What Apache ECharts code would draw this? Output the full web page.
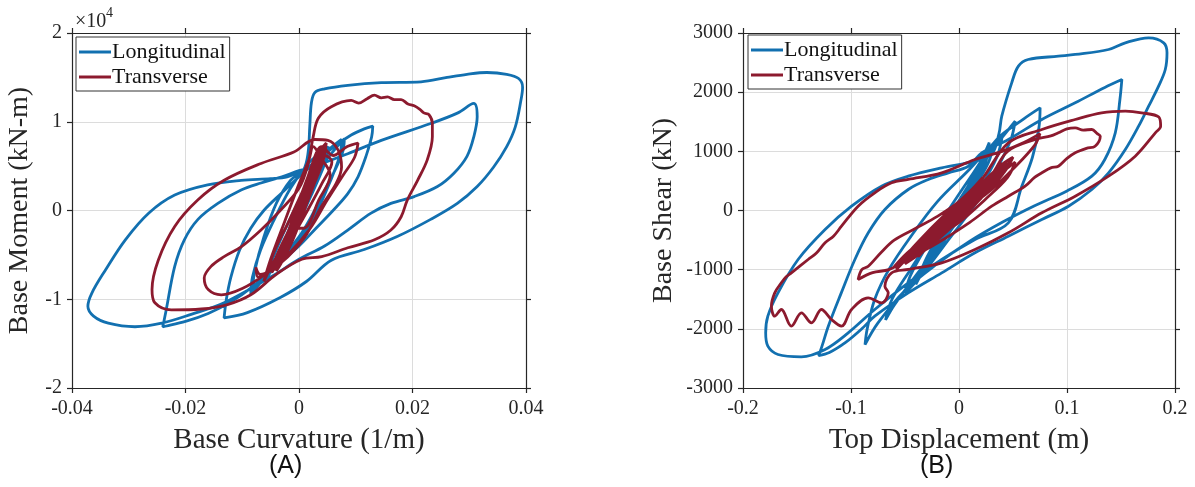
<!DOCTYPE html>
<html>
<head>
<meta charset="utf-8">
<script src="https://cdn.jsdelivr.net/npm/echarts@6/dist/echarts.min.js"></script>
<style>
html,body{margin:0;padding:0;background:#fff;}
#chart{width:1195px;height:487px;}
</style>
</head>
<body>
<div id="chart"></div>
<script>
// ---------- DATA ----------
// Panel A: base curvature (1/m) vs base moment (x 10^4 kN-m)
const curvLong = [
[0,0],[0.001,0.22],[0.0022,0.45],[0.003,0.58],[0.0022,0.38],[0.0005,0.05],[-0.0015,-0.3],[-0.0028,-0.5],[-0.002,-0.32],[0,0.02],
[0.0022,0.38],[0.0042,0.62],[0.0052,0.72],[0.0045,0.52],[0.0015,0.08],[-0.0018,-0.38],[-0.0042,-0.62],[-0.0055,-0.74],[-0.0045,-0.52],[-0.001,-0.02],
[0.003,0.42],[0.0062,0.68],[0.008,0.81],[0.0076,0.64],[0.0045,0.22],[0.0005,-0.25],[-0.004,-0.6],[-0.0068,-0.78],[-0.0082,-0.9],[-0.0078,-0.68],
[-0.0062,-0.3],[-0.004,0.08],[-0.0015,0.34],[0.0008,0.46],[0.0016,0.65],[0.0019,0.95],[0.0022,1.22],[0.0028,1.33],[0.0045,1.37],[0.0086,1.41],
[0.0145,1.44],[0.0215,1.45],[0.0261,1.5],[0.0296,1.535],[0.0331,1.555],[0.0366,1.535],[0.0387,1.487],[0.0394,1.39],[0.0391,1.24],[0.0381,0.94],
[0.0366,0.72],[0.0343,0.49],[0.0314,0.27],[0.0279,0.08],[0.0232,-0.1],[0.0174,-0.29],[0.0115,-0.44],[0.0057,-0.56],[0.0013,-0.8],[-0.0033,-0.98],
[-0.0091,-1.15],[-0.0132,-1.21],[-0.0128,-1.0],[-0.012,-0.75],[-0.0105,-0.45],[-0.0085,-0.2],[-0.0062,0.0],[-0.003,0.2],[0.0,0.38],[0.003,0.55],
[0.0062,0.72],[0.0092,0.85],[0.0115,0.92],[0.013,0.95],[0.0128,0.83],[0.0118,0.61],[0.0104,0.38],[0.0086,0.19],[0.006,0.0],[0.003,-0.2],
[0.0,-0.4],[-0.004,-0.62],[-0.008,-0.85],[-0.012,-1.03],[-0.016,-1.16],[-0.02,-1.25],[-0.024,-1.31],[-0.0234,-1.12],[-0.0219,-0.63],[-0.0202,-0.33],
[-0.0178,-0.1],[-0.0143,0.08],[-0.0102,0.23],[-0.0067,0.31],[-0.003,0.38],[0.0,0.45],[0.0028,0.5],[0.0086,0.64],[0.0145,0.79],[0.0232,0.98],
[0.028,1.1],[0.0308,1.206],[0.0314,1.056],[0.0308,0.83],[0.0296,0.61],[0.0273,0.42],[0.0244,0.27],[0.0203,0.157],[0.0162,0.08],[0.0127,-0.03],
[0.0086,-0.22],[0.0045,-0.4],[0.0,-0.55],[-0.005,-0.75],[-0.0132,-1.04],[-0.019,-1.17],[-0.0242,-1.27],[-0.0289,-1.31],[-0.0336,-1.27],[-0.0362,-1.19],
[-0.0372,-1.08],[-0.0365,-0.93],[-0.0341,-0.67],[-0.0306,-0.33],[-0.0265,-0.03],[-0.0219,0.175],[-0.0161,0.29],[-0.0102,0.34],[-0.005,0.36],[-0.0021,0.38],
[0.0005,0.45],[0.003,0.55],[0.0055,0.7],[0.0075,0.8],[0.0072,0.62],[0.005,0.25],[0.002,-0.15],[-0.002,-0.5],[-0.006,-0.76],[-0.0085,-0.94],
[-0.0082,-0.75],[-0.0068,-0.45],[-0.0045,-0.12],[-0.0015,0.25],[0.0015,0.52],[0.004,0.66],[0.0032,0.42],[0.0005,0.0],[-0.0025,-0.42],[-0.0018,-0.22],[0,0]
];
const curvTrans = [
[0,0],[0.0015,0.25],[0.003,0.5],[0.0038,0.62],[0.003,0.42],[0.001,0.05],[-0.001,-0.3],[-0.0025,-0.5],[-0.003,-0.58],[-0.002,-0.38],
[0,-0.02],[0.002,0.35],[0.0035,0.6],[0.0045,0.7],[0.0038,0.5],[0.0015,0.1],[-0.0012,-0.35],[-0.0032,-0.6],[-0.004,-0.68],[-0.0028,-0.42],
[-0.0005,0.02],[0.0018,0.42],[0.0032,0.66],[0.0028,0.45],[0.0008,0.08],[-0.0015,-0.38],[-0.0035,-0.62],[-0.0022,-0.35],[0.0003,0.1],[0.0022,0.5],
[0.004,0.72],[0.006,0.62],[0.0085,0.72],[0.0104,0.76],[0.0098,0.6],[0.0078,0.4],[0.005,0.12],[0.002,-0.2],[-0.002,-0.5],[-0.006,-0.72],
[-0.01,-0.88],[-0.0137,-0.95],[-0.016,-0.89],[-0.0167,-0.76],[-0.0155,-0.63],[-0.0132,-0.52],[-0.0102,-0.41],[-0.0067,-0.22],[-0.0033,0.0],[0.0,0.25],
[0.0015,0.5],[0.0025,0.83],[0.0034,1.04],[0.0057,1.17],[0.0092,1.24],[0.0105,1.21],[0.012,1.26],[0.0133,1.3],[0.0145,1.27],[0.0156,1.28],
[0.0168,1.25],[0.018,1.25],[0.0192,1.2],[0.0203,1.18],[0.0213,1.14],[0.022,1.1],[0.0229,1.08],[0.0235,0.98],[0.0235,0.83],[0.0226,0.57],
[0.0209,0.34],[0.0191,0.12],[0.018,-0.07],[0.0162,-0.22],[0.0133,-0.33],[0.0086,-0.42],[0.004,-0.52],[0.0005,-0.55],[-0.004,-0.72],[-0.0085,-0.95],
[-0.0126,-1.06],[-0.0172,-1.11],[-0.0225,-1.12],[-0.0254,-1.04],[-0.0259,-0.89],[-0.0248,-0.56],[-0.0219,-0.18],[-0.0178,0.12],[-0.0132,0.34],[-0.0067,0.53],
[-0.0009,0.66],[0.0028,0.8],[0.0051,0.79],[0.0069,0.68],[0.0075,0.49],[0.0065,0.3],[0.004,0.05],[0.001,-0.3],[-0.003,-0.58],[-0.0068,-0.72],
[-0.0076,-0.64],[-0.0072,-0.75],[-0.0055,-0.68],[-0.003,-0.4],[-0.0005,-0.05],[0.0018,0.35],[0.0035,0.62],[0.0042,0.7],[0.0032,0.45],[0.001,0.1],
[-0.0015,-0.35],[-0.0035,-0.6],[-0.0042,-0.66],[-0.003,-0.45],[-0.001,-0.1],[0.0012,0.28],[0.003,0.55],[0.0045,0.62],[0.0058,0.55],[0.004,0.3],
[0.0015,0.0],[-0.0012,-0.3],[-0.0038,-0.55],[-0.0055,-0.7],[-0.0045,-0.48],[-0.002,-0.15],[0.0005,0.2],[0.0025,0.48],[0.0038,0.68],[0.0048,0.76],
[0.0042,0.55],[0.002,0.2],[-0.0008,-0.2],[-0.0028,-0.48],[-0.0048,-0.7],[-0.004,-0.52],[-0.0015,-0.18],[0.001,0.18],[0.0028,0.45],[0.0022,0.3],
[0.0002,0.0],[-0.002,-0.32],[-0.0045,-0.58],[-0.0062,-0.8],[-0.005,-0.55],[-0.0025,-0.12],[0.0,0.3],[0.0018,0.58],[0.0025,0.72],[0.004,0.58],
[0.0055,0.4],[0.0035,0.12],[0.0008,-0.2],[-0.0012,-0.2],[0,0]
];
// Panel B: top displacement (m) vs base shear (kN)
const dispLong = [
[0,0],[0.01,350],[0.02,700],[0.026,900],[0.02,600],[0.005,100],[-0.01,-350],[-0.022,-700],[-0.028,-900],[-0.02,-600],
[-0.005,-100],[0.012,450],[0.025,900],[0.032,1100],[0.027,800],[0.01,250],[-0.01,-400],[-0.028,-900],[-0.038,-1150],[-0.03,-800],
[-0.012,-200],[0.008,400],[0.03,1000],[0.045,1350],[0.052,1510],[0.048,1200],[0.035,700],[0.015,100],[-0.01,-500],[-0.035,-1100],
[-0.05,-1400],[-0.045,-1100],[-0.03,-600],[-0.01,0],[0.012,600],[0.035,1200],[0.06,1550],[0.0751,1735],[0.074,1400],[0.068,900],
[0.058,400],[0.0457,-208],[0.0148,-490],[-0.016,-828],[-0.047,-1222],[-0.078,-1673],[-0.1026,-2068],[-0.124,-2349],[-0.146,-2473],[-0.1676,-2434],
[-0.177,-2293],[-0.179,-2068],[-0.177,-1786],[-0.1676,-1392],[-0.149,-828],[-0.124,-321],[-0.0995,73],[-0.0717,411],[-0.047,580],[-0.016,721],
[0.0148,834],[0.0303,950],[0.037,1300],[0.0396,1594],[0.0488,2158],[0.055,2440],[0.064,2552],[0.092,2608],[0.1076,2637],[0.1385,2721],
[0.154,2834],[0.1756,2918],[0.1895,2834],[0.1926,2665],[0.191,2383],[0.1848,2101],[0.1756,1763],[0.1663,1425],[0.154,1031],[0.1385,637],
[0.123,355],[0.1014,73],[0.0767,-152],[0.0457,-434],[0.0148,-715],[-0.016,-1054],[-0.047,-1392],[-0.078,-1786],[-0.09,-2000],[-0.105,-2230],
[-0.12,-2400],[-0.13,-2451],[-0.127,-2300],[-0.121,-1955],[-0.109,-1392],[-0.0964,-828],[-0.084,-377],[-0.0686,17],[-0.047,355],[-0.0284,524],
[-0.0099,637],[0.0087,749],[0.021,975],[0.0457,1200],[0.0767,1538],[0.1076,1820],[0.135,2080],[0.1508,2214],[0.149,1876],[0.1447,1313],
[0.135,862],[0.123,580],[0.1,330],[0.07,80],[0.04,-200],[0.01,-520],[-0.02,-900],[-0.05,-1350],[-0.075,-1900],[-0.087,-2265],
[-0.085,-2000],[-0.078,-1500],[-0.065,-1000],[-0.045,-450],[-0.02,150],[0.01,700],[0.03,1100],[0.04,1250],[0.035,900],[0.02,400],
[-0.01,-400],[-0.04,-1100],[-0.06,-1600],[-0.068,-1850],[-0.062,-1500],[-0.045,-1000],[-0.025,-450],[0.0,150],[0.02,650],[0.028,1150],
[0.022,900],[0.008,400],[-0.012,-300],[-0.03,-900],[-0.04,-1250],[-0.032,-950],[-0.015,-400],[0.005,200],[0.018,600],[0.012,400],[0,0]
];
const dispTrans = [
[0,0],[0.015,300],[0.03,600],[0.04,800],[0.03,500],[0.01,100],[-0.015,-350],[-0.035,-650],[-0.045,-800],[-0.03,-500],
[-0.01,-100],[0.015,350],[0.035,700],[0.048,880],[0.04,600],[0.02,200],[-0.005,-250],[-0.03,-650],[-0.05,-900],[-0.04,-600],
[-0.02,-250],[0.01,250],[0.03,600],[0.045,1000],[0.0705,1200],[0.085,1260],[0.092,1313],[0.1,1380],[0.1076,1397],[0.115,1360],
[0.123,1369],[0.128,1300],[0.1308,1256],[0.126,1087],[0.118,1050],[0.1076,975],[0.1,880],[0.092,749],[0.085,720],[0.0767,637],
[0.07,560],[0.0612,411],[0.0457,242],[0.0303,73],[0.01,-200],[-0.02,-550],[-0.05,-850],[-0.065,-1000],[-0.08,-1050],[-0.0934,-1166],
[-0.09,-1000],[-0.084,-941],[-0.0717,-700],[-0.06,-500],[-0.04,-300],[-0.02,-100],[0.0,150],[0.02,500],[0.0457,1144],[0.0767,1369],
[0.1076,1538],[0.132,1651],[0.154,1679],[0.169,1651],[0.185,1580],[0.1867,1425],[0.1818,1313],[0.1632,918],[0.1385,580],[0.1076,242],
[0.0767,-39],[0.0457,-377],[0.0148,-659],[-0.016,-885],[-0.047,-997],[-0.0624,-1054],[-0.0686,-1279],[-0.0655,-1392],[-0.0717,-1561],[-0.0841,-1476],
[-0.0995,-1673],[-0.1088,-1955],[-0.1181,-1842],[-0.1274,-1673],[-0.1366,-1899],[-0.1459,-1730],[-0.1552,-1955],[-0.1645,-1673],[-0.1706,-1786],[-0.1737,-1617],
[-0.1706,-1392],[-0.1645,-1222],[-0.16,-1120],[-0.1552,-1054],[-0.1397,-828],[-0.132,-720],[-0.124,-546],[-0.116,-430],[-0.1088,-265],[-0.0934,73],
[-0.078,299],[-0.0624,468],[-0.047,524],[-0.016,637],[0.0148,862],[0.04,1000],[0.06,1150],[0.075,1300],[0.07,1100],[0.05,700],
[0.03,350],[0.005,0],[-0.02,-400],[-0.04,-700],[-0.055,-880],[-0.045,-700],[-0.025,-400],[0.0,0],[0.02,380],[0.038,750],
[0.05,900],[0.042,650],[0.02,250],[-0.005,-200],[-0.025,-550],[-0.038,-780],[-0.03,-600],[-0.01,-200],[0.01,200],[0.025,500],
[0.035,650],[0.045,800],[0.038,580],[0.015,200],[-0.01,-250],[-0.035,-600],[-0.052,-820],[-0.06,-950],[-0.048,-720],[-0.028,-420],
[-0.005,-60],[0.018,320],[0.032,600],[0.042,760],[0.03,480],[0.008,100],[-0.018,-330],[-0.04,-640],[-0.03,-500],[-0.01,-150],
[0.012,230],[0.026,480],[0.04,650],[0.052,820],[0.045,560],[0.025,200],[0.0,-200],[-0.025,-480],[-0.045,-760],[-0.058,-1000],
[-0.05,-780],[-0.03,-380],[-0.01,-20],[0.01,320],[0.022,560],[0.018,350],[0,0]
];
const curvTicks = {min:-0.04, max:0.04, step:0.02};
const momTicks  = {min:-2, max:2, step:1};
const dispTicks = {min:-0.2, max:0.2, step:0.1};
const shearTicks= {min:-3000, max:3000, step:1000};
const seriesNames = ['Longitudinal','Transverse'];

// ---------- STYLE ----------
const BLUE = '#1270b0', RED = '#8c1a2e', INK = '#262626';
const SERIF = '"Liberation Serif","Times New Roman",serif';

function xAx(grid, t, pos, name, main){
  return {
    gridIndex:grid, type:'value', position:pos, min:t.min, max:t.max, interval:t.step,
    axisLine:{show:true, onZero:false, lineStyle:{color:INK, width:1.2}},
    axisTick:{show:true, inside:false, length:5, lineStyle:{color:INK, width:1.2}},
    axisLabel:{show:main, color:INK, fontFamily:SERIF, fontSize:20, margin:11, formatter:v => String(v)},
    splitLine:{show:main, lineStyle:{color:'#dcdcdc', width:1}},
    name: main ? name : '', nameLocation:'middle', nameGap:38,
    nameTextStyle:{color:INK, fontFamily:SERIF, fontSize:29}
  };
}
function yAx(grid, t, pos, name, main, gap){
  return {
    gridIndex:grid, type:'value', position:pos, min:t.min, max:t.max, interval:t.step,
    axisLine:{show:true, onZero:false, lineStyle:{color:INK, width:1.2}},
    axisTick:{show:true, inside:false, length:5, lineStyle:{color:INK, width:1.2}},
    axisLabel:{show:main, color:INK, fontFamily:SERIF, fontSize:20, margin:10, formatter:v => String(v)},
    splitLine:{show:main, lineStyle:{color:'#dcdcdc', width:1}},
    name: main ? name : '', nameLocation:'middle', nameGap:gap,
    nameTextStyle:{color:INK, fontFamily:SERIF, fontSize:28}
  };
}
function legendAt(left, top){
  return {
    data:seriesNames, orient:'vertical', left:left, top:top,
    icon:'rect', itemWidth:32, itemHeight:3, itemGap:3,
    padding:[4,4,3,3], backgroundColor:'#fff', borderColor:'#333', borderWidth:1,
    textStyle:{fontFamily:SERIF, fontSize:22, color:'#111', padding:[0,0,0,-4]},
    selectedMode:false
  };
}
function line(name, data, xi, yi, color){
  return {
    name:name, type:'line', data:data, xAxisIndex:xi, yAxisIndex:yi,
    showSymbol:false, symbol:'none', smooth:0.35, animation:false,
    lineStyle:{color:color, width:2.8}, itemStyle:{color:color}
  };
}

const chart = echarts.init(document.getElementById('chart'), null, {renderer:'canvas'});
chart.setOption({
  backgroundColor:'#fff',
  animation:false,
  grid:[
    {left:72, top:33, width:454, height:355},
    {left:743, top:33, width:432, height:355}
  ],
  xAxis:[
    xAx(0, curvTicks, 'bottom', 'Base Curvature (1/m)', true),
    xAx(0, curvTicks, 'top', '', false),
    xAx(1, dispTicks, 'bottom', 'Top Displacement (m)', true),
    xAx(1, dispTicks, 'top', '', false)
  ],
  yAxis:[
    yAx(0, momTicks, 'left', 'Base Moment (kN-m)', true, 38),
    yAx(0, momTicks, 'right', '', false, 0),
    yAx(1, shearTicks, 'left', 'Base Shear (kN)', true, 65),
    yAx(1, shearTicks, 'right', '', false, 0)
  ],
  legend:[legendAt(76, 37), legendAt(748, 35)],
  series:[
    line(seriesNames[0], curvLong, 0, 0, BLUE),
    line(seriesNames[1], curvTrans, 0, 0, RED),
    line(seriesNames[0], dispLong, 2, 2, BLUE),
    line(seriesNames[1], dispTrans, 2, 2, RED)
  ],
  graphic:[
    {type:'text', left:75, top:12, style:{text:'\u00d710', font:'20px "Liberation Serif"', fill:INK}},
    {type:'text', left:106, top:6, style:{text:'4', font:'14px "Liberation Serif"', fill:INK}},
    {type:'text', left:269, top:454, style:{text:'(A)', font:'25px "Liberation Sans"', fill:'#111'}},
    {type:'text', left:920, top:454, style:{text:'(B)', font:'25px "Liberation Sans"', fill:'#111'}}
  ]
});
</script>
</body>
</html>
